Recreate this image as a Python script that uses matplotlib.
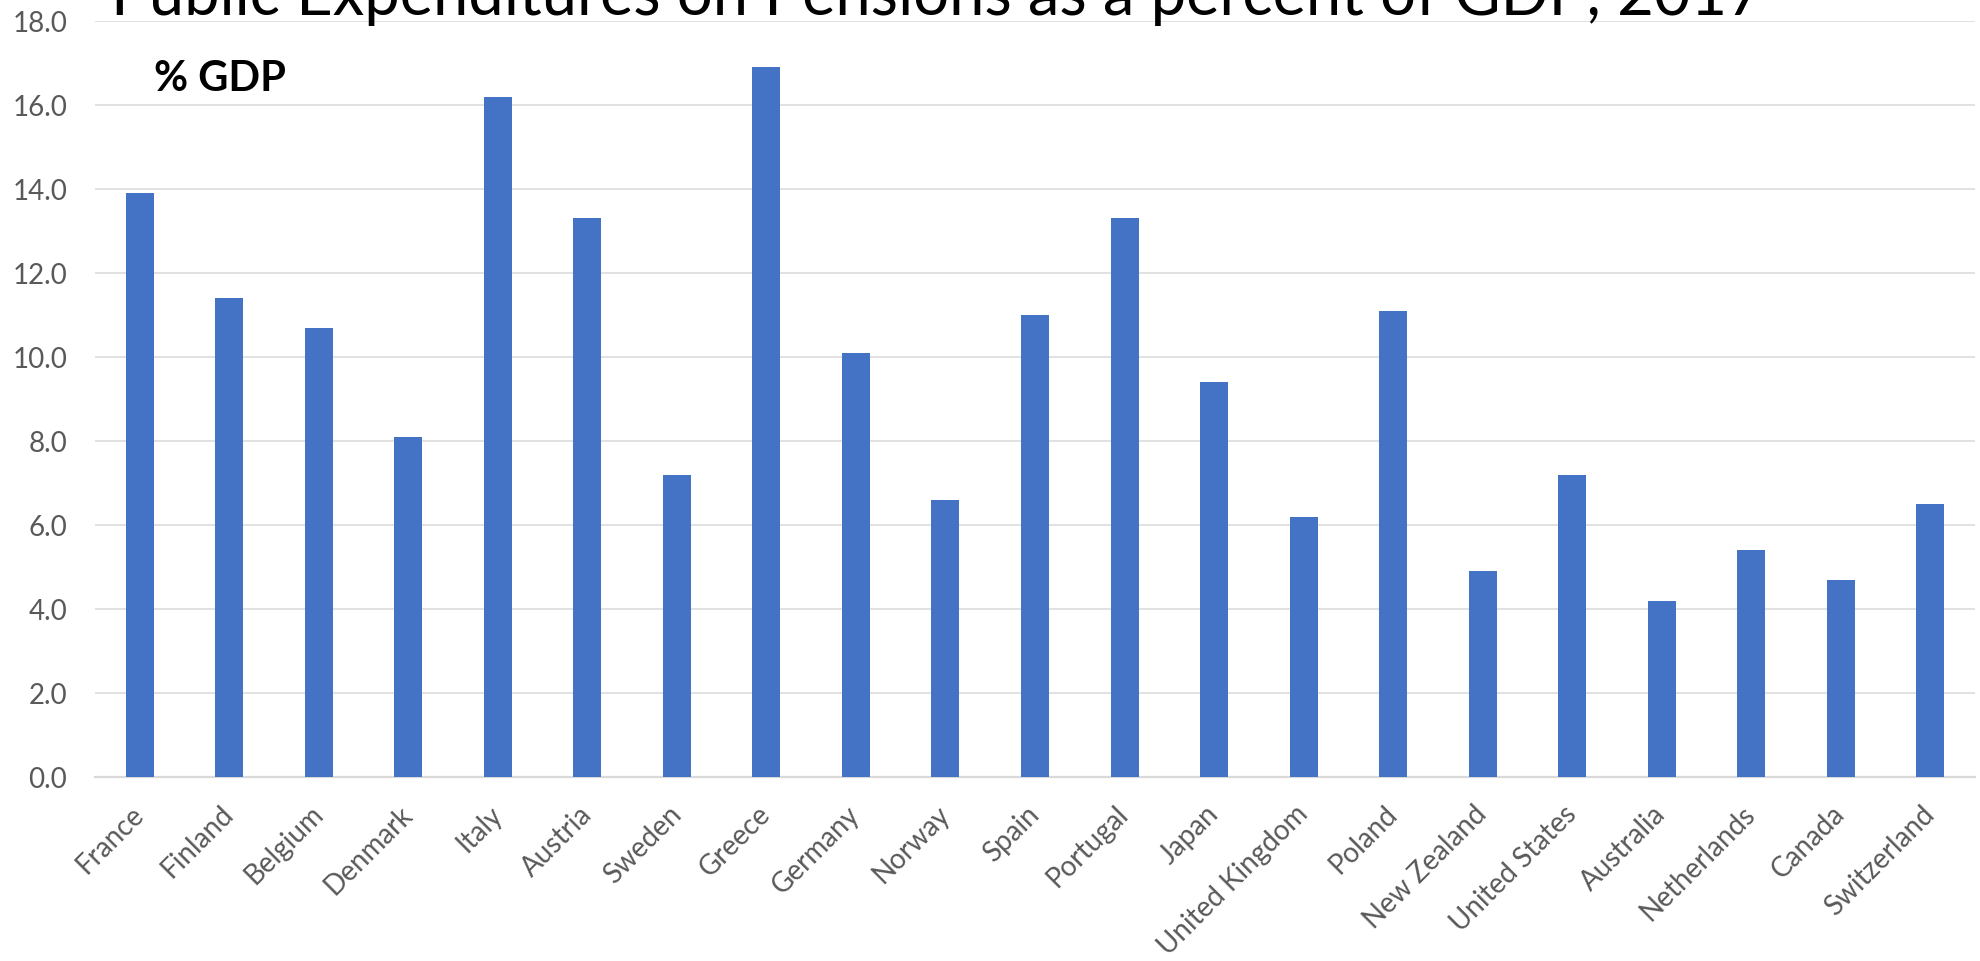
import matplotlib
matplotlib.use("Agg")
import matplotlib.pyplot as plt
import numpy as np

###################################

countries = ["France", "Finland", "Belgium", "Denmark", "Italy", "Austria",
             "Sweden", "Greece", "Germany", "Norway", "Spain", "Portugal",
             "Japan", "United Kingdom", "Poland", "New Zealand",
             "United States", "Australia", "Netherlands", "Canada",
             "Switzerland"]
pension_pct_gdp = [13.9, 11.4, 10.7, 8.1, 16.2, 13.3,
                   7.2, 16.9, 10.1, 6.6, 11.0, 13.3,
                   9.4, 6.2, 11.1, 4.9,
                   7.2, 4.2, 5.4, 4.7,
                   6.5]
yticks = np.arange(0, 18.1, 2)

###################################

plt.rcParams['font.family'] = ['Lato', 'DejaVu Sans']
W, H = 1981, 961
fig = plt.figure(figsize=(W / 100, H / 100), dpi=100)
ax = fig.add_axes([95 / W, 1 - 777 / H, (1975 - 95) / W, (777 - 21) / H])

x = np.arange(len(countries))
ax.bar(x, pension_pct_gdp, width=0.3125, color="#4472C4", zorder=3)

ax.set_xlim(-0.5, len(countries) - 0.5)
ax.set_ylim(0, 18)
ax.set_yticks(yticks)
ax.set_yticklabels([f"{v:.1f}" for v in yticks])
ax.set_xticks(x)
ax.set_xticklabels(countries, rotation=45, ha="right", va="center",
                   rotation_mode="anchor")
ax.tick_params(axis="both", length=0, labelsize=20, labelcolor="#595959")
ax.tick_params(axis="y", pad=20)
ax.tick_params(axis="x", pad=24)

ax.grid(axis="y", color="#D9D9D9", lw=1.1, zorder=0)
for s in ["top", "right", "left"]:
    ax.spines[s].set_visible(False)
ax.spines["bottom"].set_color("#D9D9D9")
ax.spines["bottom"].set_linewidth(1.6)

# title sits partly above the canvas, as in the source image
fig.text(111 / W, 1 - 15 / H, "Public Expenditures on Pensions as a percent of GDP, 2017",
         fontsize=45.5, fontweight="normal", color="black", va="baseline", ha="left")
fig.text(154 / W, 1 - 91 / H, "% GDP", fontsize=30, fontweight="bold",
         color="black", va="baseline", ha="left")

fig.savefig("out.png", dpi=100)
